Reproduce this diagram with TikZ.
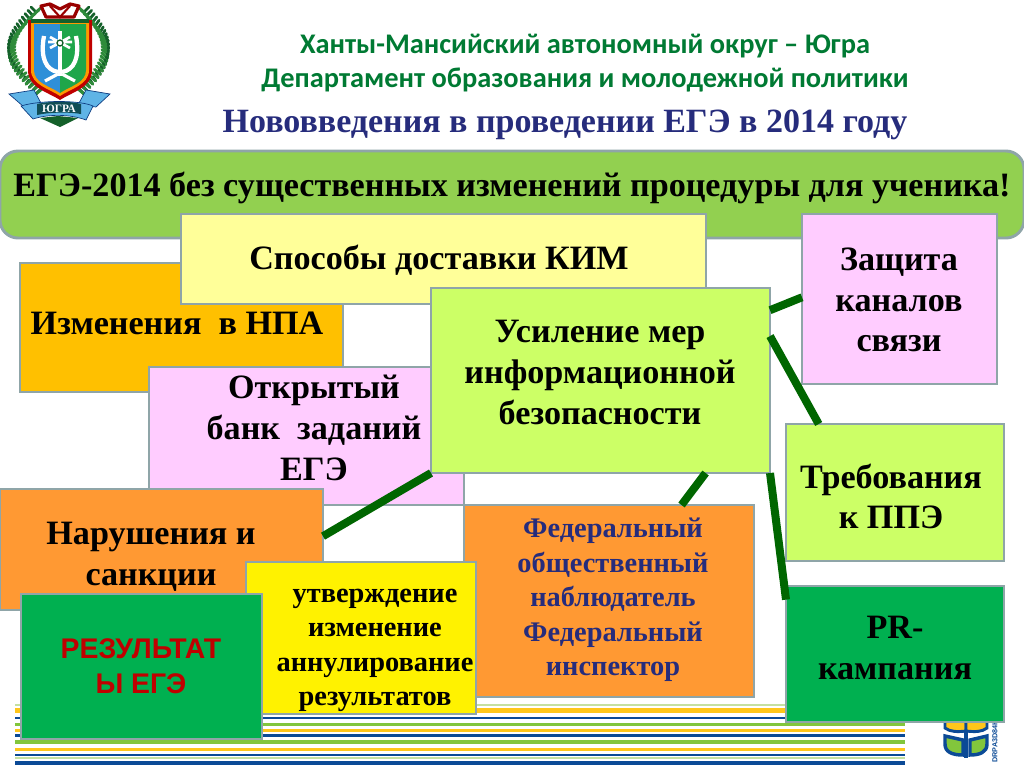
\documentclass[tikz,border=0pt]{standalone}
\usepackage{fontspec}
\setmainfont{Liberation Serif}
\newfontfamily\calibfont{Carlito}
\newfontfamily\arialfont{Liberation Sans}
\usetikzlibrary{calc}
\definecolor{edgegray}{HTML}{8FA5A8}
\definecolor{linkgreen}{HTML}{006600}
\definecolor{barfill}{HTML}{92D050}
\definecolor{amber}{HTML}{FFC000}
\definecolor{paleyellow}{HTML}{FFFF99}
\definecolor{pinkfill}{HTML}{FFCCFF}
\definecolor{limefill}{HTML}{CCFF66}
\definecolor{orangefill}{HTML}{FF9933}
\definecolor{greenfill}{HTML}{00B050}
\definecolor{navytext}{HTML}{262C7C}
\definecolor{titlegreen}{HTML}{007A33}
\definecolor{resred}{HTML}{C00000}
\definecolor{stripeblue}{HTML}{0B4A96}
\definecolor{stripegreen}{HTML}{82C63C}
\definecolor{stripeyellow}{HTML}{FFC61A}
\definecolor{stripepale}{HTML}{C5E0A0}
\definecolor{crestblue}{HTML}{2E8FD8}
\definecolor{crestgreen}{HTML}{1FA64A}
\definecolor{crestleaf}{HTML}{2E8B3A}
\definecolor{crestdark}{HTML}{14602A}
\definecolor{crestrib}{HTML}{5FB4E6}
\newcommand{\pxbox}[6]{\node[boxstyle,fill=#6,minimum width=#4*0.75pt-#2*0.75pt,minimum height=#5*0.75pt-#3*0.75pt,anchor=north west] (#1) at (#2,#3) {};}
\newcommand{\fs}[2]{\fontsize{#1}{#2}\selectfont}
\tikzset{
  x=0.75pt,y=-0.75pt,
  boxstyle/.style={draw=edgegray,line width=2.2pt,inner sep=0pt,outer sep=0pt},
  boxtext/.style={align=center,font=\bfseries\fs{25.6}{30.5},text=black,inner sep=0pt},
  smalltext/.style={align=center,font=\bfseries\fs{21.3}{25.8},inner sep=0pt},
  linkline/.style={draw=linkgreen,line width=6pt},
  stripe/.style={line width=#1*0.75pt},
}
\begin{document}
\begin{tikzpicture}
\useasboundingbox (0,0) rectangle (1024,768);
\fill[white] (0,0) rectangle (1024,768);
% stripes
\draw[stripe=1.5,stripepale] (15,705) -- (905,705);
\draw[stripe=5,stripeyellow] (15,710) -- (905,710);
\draw[stripe=1.5,stripeblue] (15,718) -- (905,718);
\draw[stripe=3,stripegreen] (15,724.5) -- (905,724.5);
\draw[stripe=3,stripeyellow] (15,730.5) -- (905,730.5);
\draw[stripe=3.5,stripeblue] (15,735.5) -- (905,735.5);
\draw[stripe=4,stripegreen] (15,742) -- (905,742);
\draw[stripe=3,stripeyellow] (15,749.5) -- (905,749.5);
\draw[stripe=1.2,stripeblue] (15,755) -- (905,755);
\draw[stripe=2,stripepale] (15,757.5) -- (905,757.5);
\draw[stripe=4,stripeblue] (15,763) -- (905,763);
% corner logo
\fill[stripegreen,draw=stripeblue,line width=2.6pt] (945,736) -- (963,740) -- (963,755) .. controls (952,755) and (945,752) .. (945,744) -- cycle;
\fill[stripegreen,draw=stripeblue,line width=2.6pt] (970,740) -- (987,736) -- (987,744) .. controls (987,752) and (980,755) .. (970,755) -- cycle;
\draw[stripeblue,line width=2.8pt] (966,722) -- (966,758);
\fill[stripeyellow,draw=stripeblue,line width=2.2pt] (945,720) -- (945,728) .. controls (950,732) and (958,732) .. (966,731) -- (966,720) -- cycle;
\fill[stripeyellow,draw=stripeblue,line width=2.2pt] (966,720) -- (966,731) .. controls (975,732) and (982,732) .. (987,728) -- (987,720) -- cycle;
\node[rotate=90,font=\arialfont\bfseries\fs{5.4}{6},text=stripeblue,inner sep=0pt] (logotext) at (995,741.5) {DRPA3D84H};
% crest: wreath
\foreach \t in {0,0.04,...,1.01}{
  \draw[crestdark,line width=2.1pt,line cap=round] ({36-27*sin(\t*180)},{12+\t*82}) -- ++({-5+9*\t},{-5+1*\t});
  \draw[crestleaf,line width=2.1pt,line cap=round] ({36-27*sin(\t*180)},{12+\t*82}) -- ++({6},{-5});
  \draw[crestdark,line width=2.1pt,line cap=round] ({84+24*sin(\t*180)},{12+\t*82}) -- ++({5-9*\t},{-5+1*\t});
  \draw[crestleaf,line width=2.1pt,line cap=round] ({84+24*sin(\t*180)},{12+\t*82}) -- ++({-6},{-5});
}
% crest: shield
\fill[red!75!black] (28,20) -- (92,20) -- (92,70) .. controls (92,88) and (72,92) .. (60,100) .. controls (48,92) and (28,88) .. (28,70) -- cycle;
\fill[orange!80!yellow] (31,22) -- (89,22) -- (89,70) .. controls (89,85) and (70,89) .. (60,96) .. controls (50,89) and (31,85) .. (31,70) -- cycle;
\fill[crestblue] (34,24) -- (60,24) -- (60,93) .. controls (50,86) and (34,83) .. (34,70) -- cycle;
\fill[crestgreen] (86,24) -- (60,24) -- (60,93) .. controls (70,86) and (86,83) .. (86,70) -- cycle;
\fill[crestdark] (31,19) -- (89,19) -- (89,23) -- (31,23) -- cycle;
% crest: white emblem
\draw[white,line width=3.2pt] (44,36) .. controls (40,58) and (46,70) .. (58,72);
\draw[white,line width=3.2pt] (76,36) .. controls (80,58) and (74,70) .. (62,72);
\draw[white,line width=2.4pt] (60,31) -- (60,76);
\draw[white,line width=2pt] (50,37) -- (70,48) (70,37) -- (50,48) (48,42) -- (72,42);
\draw[white,line width=2.4pt] (45,81) -- (58,74) (75,81) -- (62,74);
\draw[crestdark,line width=1pt] (60,43) circle[radius=3];
% crest: crown
\draw[red!60!black,line width=2.4pt,fill=white,line join=round] (41,6) -- (50,4) -- (60,9) -- (70,4) -- (79,6) -- (74,17) -- (46,17) -- cycle;
\draw[red!60!black,line width=1.6pt] (50,6) -- (60,17) -- (70,6);
% crest: ribbon
\fill[crestrib,draw=crestdark!60!blue,line width=0.5pt] (9,94) -- (34,90) -- (42,105) -- (24,107) -- cycle;
\fill[crestrib,draw=crestdark!60!blue,line width=0.5pt] (110,94) -- (86,90) -- (78,105) -- (96,107) -- cycle;
\fill[crestrib,draw=crestdark!60!blue,line width=0.5pt] (21,106) .. controls (40,100) and (80,100) .. (93,106) -- (86,120) .. controls (70,114) and (48,114) .. (33,119) -- cycle;
\fill[crestdark!80!blue] (37,104) .. controls (50,101) and (70,101) .. (81,104) -- (81,114) .. controls (70,112) and (50,112) .. (37,115) -- cycle;
\node[font=\bfseries\fs{8.5}{9},text=white,inner sep=0pt] (crestname) at (59,109) {ЮГРА};
\fill[crestdark] (40,118) -- (58,116) -- (78,118) -- (60,127) -- cycle;
% titles
\node[font=\calibfont\bfseries\fs{21.3}{24},text=titlegreen,inner sep=0pt] (title1) at (585,46) {Ханты-Мансийский автономный округ – Югра};
\node[font=\calibfont\bfseries\fs{21.3}{24},text=titlegreen,inner sep=0pt] (title2) at (585,80.5) {Департамент образования и молодежной политики};
\node[font=\bfseries\fs{25.5}{28},text=navytext,inner sep=0pt] (title3) at (565,125) {Нововведения в проведении ЕГЭ в 2014 году};
% bar
\draw[edgegray,line width=2.2pt,fill=barfill,rounded corners=13.5pt] (0,151) rectangle (1024,238);
\node[boxtext] (bartext) at (512,187.5) {ЕГЭ-2014 без существенных изменений процедуры для ученика!};
% boxes
\pxbox{npa}{20}{263}{343}{392}{amber}
\pxbox{kim}{181}{214}{706}{304}{paleyellow}
\pxbox{zash}{802}{214}{997}{384}{pinkfill}
\pxbox{bank}{149}{367}{464}{505}{pinkfill}
\pxbox{usil}{431}{288}{770}{473}{limefill}
\pxbox{treb}{786}{424}{1004}{561}{limefill}
\pxbox{nar}{0}{489}{323}{610}{orangefill}
\pxbox{fed}{464}{505}{754}{697}{orangefill}
\pxbox{ann}{246}{562}{476}{714}{yellow}
\pxbox{res}{21}{594}{262}{739}{greenfill}
\pxbox{pr}{786}{586}{1004}{722}{greenfill}
% texts
\node[boxtext] (kimtext) at (439,260) {Способы доставки КИМ};
\node[boxtext] (npatext) at (177,323) {Изменения\ \ в НПА};
\node[boxtext] (zashtext) at (899,300) {Защита\\каналов\\связи};
\node[boxtext] (usiltext) at (600,372.5) {Усиление мер\\информационной\\безопасности};
\node[boxtext] (banktext) at (314,428) {Открытый\\банк\ \ заданий\\ЕГЭ};
\node[boxtext] (trebtext) at (891,496.5) {Требования\\к ППЭ};
\node[boxtext] (nartext) at (151,556.5) {Нарушения и\\санкции};
\node[smalltext,text=navytext] (fedtext) at (613,600) {Федеральный\\общественный\\наблюдатель\\Федеральный\\инспектор};
\node[smalltext,text=black] (anntext) at (375,650.5) {утверждение\\изменение\\аннулирование\\результатов};
\node[boxtext,font=\arialfont\bfseries\fs{21.3}{26},text=resred] (restext) at (141,666) {РЕЗУЛЬТАТ\\Ы ЕГЭ};
\node[boxtext,font=\bfseries\fs{25.6}{31}] (prtext) at (895,648) {PR-\\кампания};
% connectors
\draw[linkline] ($(usil.north east)!0.12!(usil.south east)$) -- ($(zash.north west)!0.49!(zash.south west)$);
\draw[linkline] ($(usil.north east)!0.26!(usil.south east)$) -- ($(treb.north west)!0.15!(treb.north east)$);
\draw[linkline] (usil.south east) -- ($(pr.north west)!0.1!(pr.south west)$);
\draw[linkline] ($(usil.south west)!0.81!(usil.south east)$) -- ($(fed.north west)!0.75!(fed.north east)$);
\draw[linkline] (usil.south west) -- ($(nar.north east)!0.39!(nar.south east)$);
\end{tikzpicture}
\end{document}
